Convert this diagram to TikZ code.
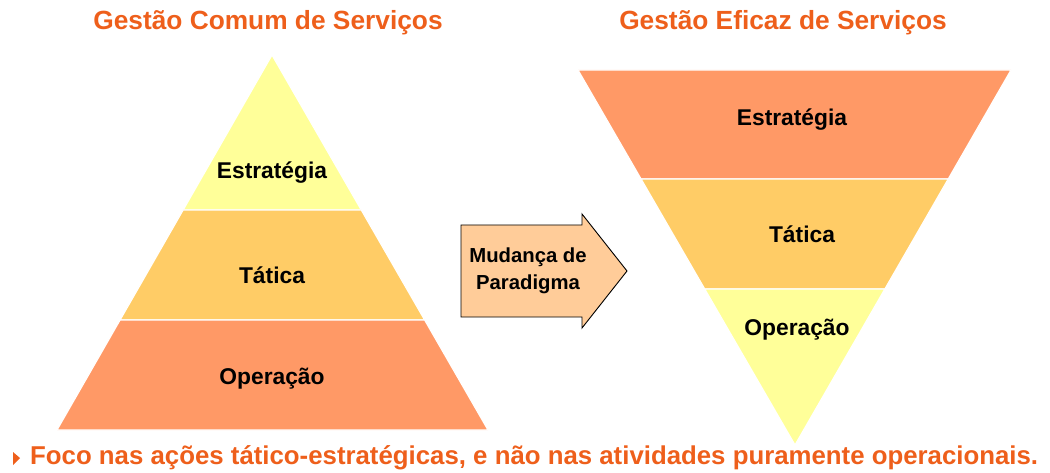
\documentclass[tikz,border=0pt]{standalone}
\usepackage{fontspec}
\setmainfont{Liberation Sans}
\usepackage{tikz}
\usetikzlibrary{calc, positioning}
\definecolor{titleOrange}{HTML}{EE5F1B}
\definecolor{layerLight}{HTML}{FFFF99}
\definecolor{layerMid}{HTML}{FFCC66}
\definecolor{layerDark}{HTML}{FF9966}
\definecolor{arrowFill}{HTML}{FFCC99}
\tikzset{
    layer/.style={draw=white, line width=1.2pt},
    layerText/.style={font=\fontsize{22.8}{26}\selectfont\bfseries, text=black},
    titleText/.style={font=\fontsize{26.3}{30}\selectfont\bfseries, text=titleOrange},
    noteText/.style={font=\fontsize{25.8}{28}\selectfont\bfseries, text=titleOrange, anchor=west, inner sep=0pt},
    shiftArrow/.style={draw=black, fill=arrowFill, line width=0.9pt, line join=miter},
    arrowText/.style={font=\fontsize{20.3}{27}\selectfont\bfseries, align=center},
}

\begin{document}
\begin{tikzpicture}[x=1pt, y=-1pt]

    \useasboundingbox (0,0) rectangle (1050,473);

    % pyramid 1
    \coordinate (apexL) at (272, 55);
    \coordinate (blL) at (57, 430);
    \coordinate (brL) at (488, 430);
    \path[layer, fill=layerLight] (apexL) -- ($(apexL)!0.4133!(brL)$) -- ($(apexL)!0.4133!(blL)$) -- cycle;
    \path[layer, fill=layerMid] ($(apexL)!0.4133!(blL)$) -- ($(apexL)!0.4133!(brL)$)
        -- ($(apexL)!0.7067!(brL)$) -- ($(apexL)!0.7067!(blL)$) -- cycle;
    \path[layer, fill=layerDark] ($(apexL)!0.7067!(blL)$) -- ($(apexL)!0.7067!(brL)$)
        -- (brL) -- (blL) -- cycle;

    \node[titleText] (title1) at (268, 23) {Gestão Comum de Serviços};
    \node[layerText] (est1) at (272, 173) {Estratégia};
    \node[layerText] (tat1) at (272, 275) {Tática};
    \node[layerText] (ope1) at (272, 379) {Operação};

    % arrow
    \draw[shiftArrow] (461, 225) -- (582, 225) -- (582, 214) -- (627, 271)
        -- (582, 328) -- (582, 317) -- (461, 317) -- cycle;
    \node[arrowText] (shift) at (528, 271) {Mudança de\\Paradigma};

    % pyramid 2
    \coordinate (apexR) at (795, 445);
    \coordinate (tlR) at (578, 70);
    \coordinate (trR) at (1011, 70);
    \path[layer, fill=layerDark] (tlR) -- (trR) -- ($(trR)!0.2907!(apexR)$) -- ($(tlR)!0.2907!(apexR)$) -- cycle;
    \path[layer, fill=layerMid] ($(tlR)!0.2907!(apexR)$) -- ($(trR)!0.2907!(apexR)$)
        -- ($(trR)!0.584!(apexR)$) -- ($(tlR)!0.584!(apexR)$) -- cycle;
    \path[layer, fill=layerLight] ($(tlR)!0.584!(apexR)$) -- ($(trR)!0.584!(apexR)$) -- (apexR) -- cycle;

    \node[titleText] (title2) at (783, 23) {Gestão Eficaz de Serviços};
    \node[layerText] (est2) at (792, 120) {Estratégia};
    \node[layerText] (tat2) at (802, 234) {Tática};
    \node[layerText] (ope2) at (797, 330) {Operação};

    % note
    \fill[titleOrange] (13, 452) -- (20, 458) -- (13, 465) -- cycle;
    \node[noteText] (note) at (30, 458) {Foco nas ações tático-estratégicas, e não nas atividades puramente operacionais.};

\end{tikzpicture}
\end{document}
